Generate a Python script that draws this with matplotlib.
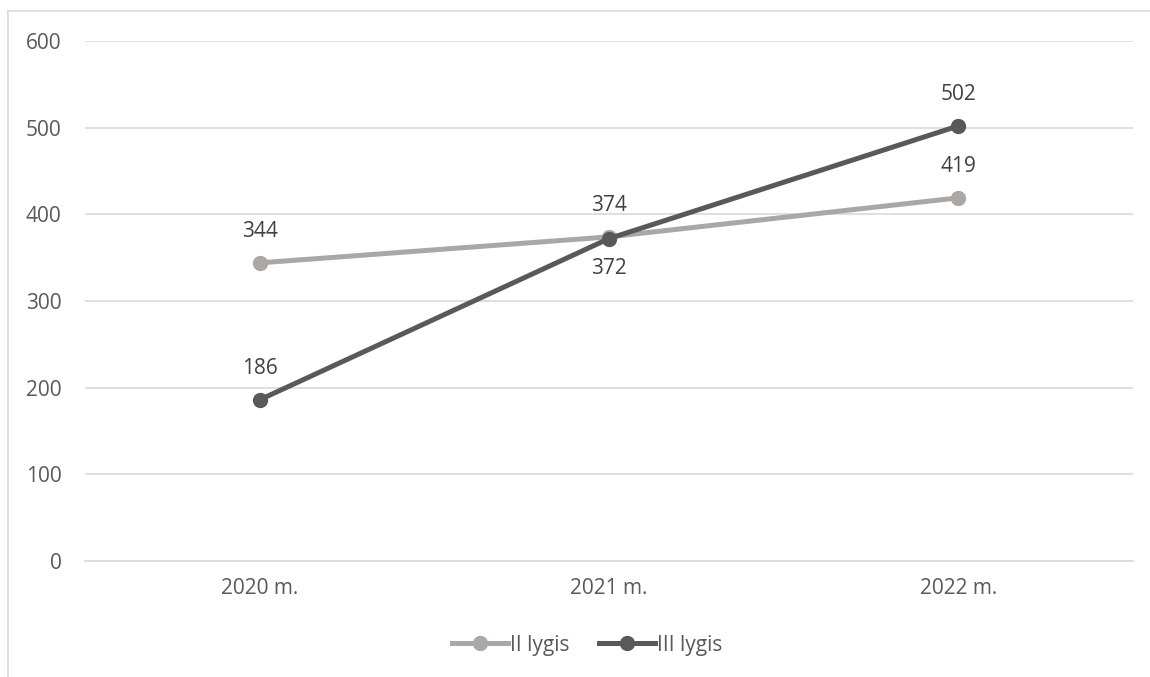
import matplotlib.pyplot as plt
from matplotlib.lines import Line2D

plt.rcParams['font.family'] = ['Open Sans', 'DejaVu Sans']

# Duomenys
years = ["2020 m.", "2021 m.", "2022 m."]
lygis_2 = [344, 374, 419]
lygis_3 = [186, 372, 502]

c2 = "#ABA7A7"
c3 = "#595959"
txt = "#595959"
fs = 15

fig = plt.figure(figsize=(11.5, 6.77), dpi=100)
ax = fig.add_axes([85/1150, 1 - 561/677, (1133 - 85)/1150, (561 - 41)/677])

x = range(len(years))
ax.plot(x, lygis_2, color=c2, lw=3.6, marker='o', ms=10, solid_capstyle='round', zorder=3)
ax.plot(x, lygis_3, color=c3, lw=3.6, marker='o', ms=10, solid_capstyle='round', zorder=4)

# Reikšmių žymos
for i, v in enumerate(lygis_2):
    ax.annotate(str(v), (i, v), xytext=(0, 15), textcoords='offset points',
                ha='center', va='bottom', fontsize=fs, color='#404040')
offs3 = [15, -14, 15]
for i, v in enumerate(lygis_3):
    ax.annotate(str(v), (i, v), xytext=(0, offs3[i]), textcoords='offset points',
                ha='center', va='bottom' if offs3[i] > 0 else 'top',
                fontsize=fs, color='#404040')

ax.set_xlim(-0.5, 2.5)
ax.set_ylim(0, 600)
ax.set_yticks(range(0, 601, 100))
ax.set_xticks(list(x))
ax.set_xticklabels(years)
ax.grid(axis='y', color='#D9D9D9', lw=1.2)
ax.set_axisbelow(True)
for s in ['top', 'right', 'left']:
    ax.spines[s].set_visible(False)
ax.spines['bottom'].set_color('#D9D9D9')
ax.spines['bottom'].set_linewidth(1.2)
ax.tick_params(length=0, labelsize=fs, labelcolor=txt)
ax.tick_params(axis='y', pad=17)
ax.tick_params(axis='x', pad=12)

handles = [Line2D([], [], color=c2, lw=3.6, marker='o', ms=10),
           Line2D([], [], color=c3, lw=3.6, marker='o', ms=10)]
fig.legend(handles, ["II lygis", "III lygis"], loc='center', bbox_to_anchor=(587/1150, 1 - 645/677),
           ncol=2, frameon=False, fontsize=fs, labelcolor=txt, handlelength=2.7,
           handletextpad=0.1, columnspacing=1.4)

# Rėmelis
fig.add_artist(Line2D([8/1150, 1], [1 - 11/677] * 2, color='#D9D9D9', lw=1.2))
fig.add_artist(Line2D([8/1150] * 2, [0, 1 - 11/677], color='#D9D9D9', lw=1.2))

fig.savefig("out.png", dpi=100, facecolor='white')
